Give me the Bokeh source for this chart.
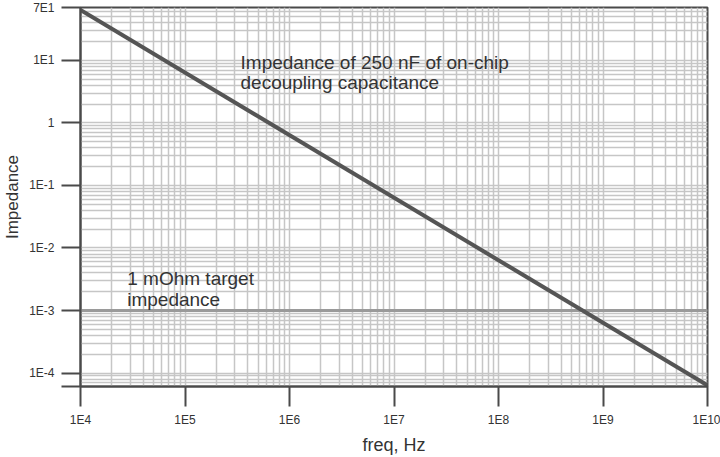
import numpy as np
from bokeh.plotting import figure
from bokeh.models import Range1d, FixedTicker
from bokeh.core.properties import value
from bokeh.embed import file_html
from bokeh.resources import INLINE

# impedance of 250 nF on-chip decoupling capacitance (end points)
freq = [1e4, 1e10]
impedance = [63.7, 6.37e-5]

# 1 mOhm target impedance
target_freq = [1e4, 1e10]
target_z = [1e-3, 1e-3]

x_ticks = [1e4, 1e5, 1e6, 1e7, 1e8, 1e9, 1e10]
x_labels = ["1E4", "1E5", "1E6", "1E7", "1E8", "1E9", "1E10"]
y_ticks = [6.1e-5, 1e-4, 1e-3, 1e-2, 1e-1, 1, 10, 70]
y_labels = ["", "1E-4", "1E-3", "1E-2", "1E-1", "1", "1E1", "7E1"]

notes = ["Impedance of 250 nF of on-chip", "decoupling capacitance",
         "1 mOhm target", "impedance"]
note_x = [3.4e5, 3.4e5, 2.8e4, 2.8e4]
note_y = [9.4, 4.36, 3.2e-3, 1.48e-3]

FONT = "Liberation Sans"
DARK = "#4a4a4a"
GRID = "#c6c6c6"

p = figure(width=720, height=457,
           x_axis_type="log", y_axis_type="log",
           x_range=Range1d(x_ticks[0], x_ticks[-1]),
           y_range=Range1d(y_ticks[0], y_ticks[-1]),
           x_axis_label="freq, Hz", y_axis_label="Impedance",
           output_backend="svg", toolbar_location=None,
           min_border_left=78, min_border_right=13,
           min_border_top=7, min_border_bottom=60)

# log grid: decades plus 2..9 in between
decades = 10.0 ** np.arange(-5, 12)
minor = [k * d for d in decades for k in range(2, 10)]
for g in (p.xgrid, p.ygrid):
    g.ticker = FixedTicker(ticks=list(decades), minor_ticks=minor)
p.grid.grid_line_color = GRID
p.grid.grid_line_width = 1.5
p.grid.minor_grid_line_color = GRID
p.grid.minor_grid_line_width = 1.5

p.xaxis.ticker = FixedTicker(ticks=x_ticks)
p.xaxis.major_label_overrides = dict(zip(x_ticks, x_labels))
p.yaxis.ticker = FixedTicker(ticks=y_ticks)
p.yaxis.major_label_overrides = dict(zip(y_ticks, y_labels))

for ax in (p.xaxis, p.yaxis):
    ax.axis_line_color = DARK
    ax.axis_line_width = 2
    ax.major_tick_line_color = DARK
    ax.major_tick_line_width = 2
    ax.major_tick_in = 0
    ax.minor_tick_line_color = None
    ax.major_label_text_font = FONT
    ax.major_label_text_font_size = "12px"
    ax.major_label_text_color = "#333333"
    ax.axis_label_text_font = FONT
    ax.axis_label_text_font_style = "normal"
    ax.axis_label_text_color = "#333333"
p.xaxis.axis_label_text_font_size = "18px"
p.yaxis.axis_label_text_font_size = "17px"
p.xaxis.major_tick_out = 20
p.xaxis.major_label_standoff = 6
p.xaxis.axis_label_standoff = 5
p.yaxis.major_tick_out = 19
p.yaxis.major_label_standoff = 7
p.yaxis.axis_label_standoff = 4

p.outline_line_color = DARK
p.outline_line_width = 2
p.outline_line_alpha = 1

p.line(target_freq, target_z, line_color="#9a9a9a", line_width=3)
p.line(freq, impedance, line_color="#555555", line_width=4)

p.text(x=note_x, y=note_y, text=notes, text_font=value(FONT),
       text_font_size="19px", text_color="#333333",
       text_baseline="alphabetic")

open("out.html", "w").write(file_html(p, INLINE))
